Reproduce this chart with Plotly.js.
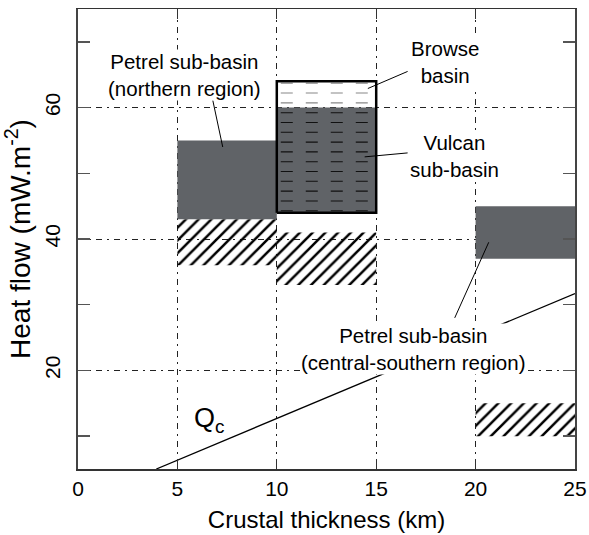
<!DOCTYPE html>
<html>
<head>
<meta charset="utf-8">
<script src="https://cdn.plot.ly/plotly-3.0.1.min.js"></script>
<style>html,body{margin:0;padding:0;background:#fff;}#chart{width:589px;height:535px;}</style>
</head>
<body>
<div id="chart"></div>
<script>
// ---- data ----
// solid grey heat-flow ranges (Petrel N, Vulcan, Petrel C-S)
const grayName = ['Petrel sub-basin (northern region)', 'Vulcan sub-basin', 'Petrel sub-basin (central-southern region)'];
const grayX0 = [5, 10, 20];
const grayX1 = [10, 15, 25];
const grayY0 = [43, 44, 37];
const grayY1 = [55, 60, 45];
// hatched ranges
const hatchX0 = [5, 10, 20];
const hatchX1 = [10, 15, 25];
const hatchY0 = [36, 33, 10];
const hatchY1 = [43, 41, 15];
// outlined Browse/Vulcan box
const boxX = [10, 15];
const boxY = [44, 64];
const vulcanTop = 60;
// Qc line
const qcX = [3.94, 25];
const qcY = [5, 31.7];
// axis ticks
const xTicks = [0, 5, 10, 15, 20, 25];
const yTicks = [20, 40, 60];

// labels: text, centre, leader line (from, to)
const labels = [
  {text: 'Petrel sub-basin<br>(northern region)', x: 5.37, y: 64.9, lx: [6.78, 7.28], ly: [61.1, 54.0]},
  {text: 'Browse<br>basin', x: 18.45, y: 66.9, lx: [16.58, 14.58], ly: [65.5, 62.9]},
  {text: 'Vulcan<br>sub-basin', x: 18.95, y: 52.7, lx: [16.58, 14.42], ly: [53.1, 52.5]},
  {text: 'Petrel sub-basin<br>(central-southern region)', x: 16.84, y: 23.3, lx: [18.95, 20.66], ly: [28.0, 39.5]}
];
const qcLabel = {text: 'Q<sub>c</sub>', x: 6.6, y: 12.4};

const GRAY = '#606367';
const FONT = '"Liberation Sans", Arial, sans-serif';

const traces = [];
// hatched areas
for (let i = 0; i < hatchX0.length; i++) {
  traces.push({
    type: 'scatter', mode: 'lines',
    x: [hatchX0[i], hatchX1[i], hatchX1[i], hatchX0[i], hatchX0[i]],
    y: [hatchY0[i], hatchY0[i], hatchY1[i], hatchY1[i], hatchY0[i]],
    fill: 'toself', fillcolor: 'rgba(0,0,0,0)',
    fillpattern: {shape: '/', size: 9, solidity: 0.28, fgcolor: '#000', fgopacity: 1, bgcolor: 'rgba(0,0,0,0)', fillmode: 'overlay'},
    line: {width: 0, color: 'rgba(0,0,0,0)'},
    hoverinfo: 'skip', showlegend: false
  });
}
// grey areas
for (let i = 0; i < grayX0.length; i++) {
  traces.push({
    type: 'scatter', mode: 'lines', name: grayName[i],
    x: [grayX0[i], grayX1[i], grayX1[i], grayX0[i], grayX0[i]],
    y: [grayY0[i], grayY0[i], grayY1[i], grayY1[i], grayY0[i]],
    fill: 'toself', fillcolor: GRAY,
    line: {width: 0, color: GRAY},
    hoverinfo: 'skip', showlegend: false
  });
}
// dashed pattern rows in the box
const nRows = 14;
const inset = 0.3;
for (let k = 0; k < nRows; k++) {
  const yy = boxY[0] + inset + k * (boxY[1] - boxY[0] - 2 * inset) / (nRows - 1);
  traces.push({
    type: 'scatter', mode: 'lines',
    x: [boxX[0] + 0.2, boxX[1]], y: [yy, yy],
    line: {width: 1.1, color: yy > vulcanTop ? '#888' : '#111', dash: '12px,13px'},
    hoverinfo: 'skip', showlegend: false
  });
}
// box outline
traces.push({
  type: 'scatter', mode: 'lines',
  x: [boxX[0], boxX[1], boxX[1], boxX[0], boxX[0]],
  y: [boxY[0], boxY[0], boxY[1], boxY[1], boxY[0]],
  line: {width: 2.5, color: '#000'},
  hoverinfo: 'skip', showlegend: false
});
// Qc line
traces.push({
  type: 'scatter', mode: 'lines', x: qcX, y: qcY,
  line: {width: 1.3, color: '#000'}, hoverinfo: 'skip', showlegend: false
});

const shapes = labels.map(l => ({
  type: 'line', xref: 'x', yref: 'y',
  x0: l.lx[0], x1: l.lx[1], y0: l.ly[0], y1: l.ly[1],
  line: {color: '#000', width: 1}
}));

const annotations = labels.map(l => ({
  xref: 'x', yref: 'y', x: l.x, y: l.y, text: l.text, showarrow: false,
  font: {family: FONT, size: 20.5, color: '#000'}, bgcolor: '#fff', borderpad: 0
}));
annotations.push({
  xref: 'x', yref: 'y', x: qcLabel.x, y: qcLabel.y, text: qcLabel.text, showarrow: false,
  font: {family: FONT, size: 27, color: '#000'}
});

const layout = {
  width: 589, height: 535,
  margin: {l: 78, r: 14, t: 9, b: 66, pad: 0},
  paper_bgcolor: '#fff', plot_bgcolor: '#fff',
  font: {family: FONT, color: '#000'},
  showlegend: false,
  xaxis: {
    range: [0, 25], tickvals: xTicks, ticktext: xTicks.map(String),
    ticks: 'inside', ticklen: 10, tickcolor: '#333', tickwidth: 1,
    showline: true, linecolor: '#333', linewidth: 1.5, mirror: 'ticks',
    showgrid: true, gridcolor: '#222', gridwidth: 1, griddash: '6px,5px,2px,5px',
    zeroline: false, tickfont: {size: 21, family: FONT},
    title: {text: 'Crustal thickness (km)', font: {size: 24, family: FONT}, standoff: 12}
  },
  yaxis: {
    range: [5, 75], tickvals: yTicks, ticktext: yTicks.map(String), tickangle: -90,
    ticks: 'inside', ticklen: 12, tickcolor: '#555', tickwidth: 1.5,
    minor: {dtick: 10, tick0: 0, ticks: 'inside', ticklen: 12, tickcolor: '#555', tickwidth: 1.5, showgrid: false},
    showline: true, linecolor: '#444', linewidth: 2, mirror: 'ticks',
    showgrid: true, gridcolor: '#222', gridwidth: 1, griddash: '6px,5px,2px,5px',
    zeroline: false, tickfont: {size: 21, family: FONT}, ticklabelstandoff: 8,
    title: {text: 'Heat flow (mW.m<sup>-2</sup>)', font: {size: 28, family: FONT}, standoff: 8}
  },
  shapes: shapes,
  annotations: annotations
};

Plotly.newPlot('chart', traces, layout, {staticPlot: true, displayModeBar: false});
</script>
</body>
</html>
